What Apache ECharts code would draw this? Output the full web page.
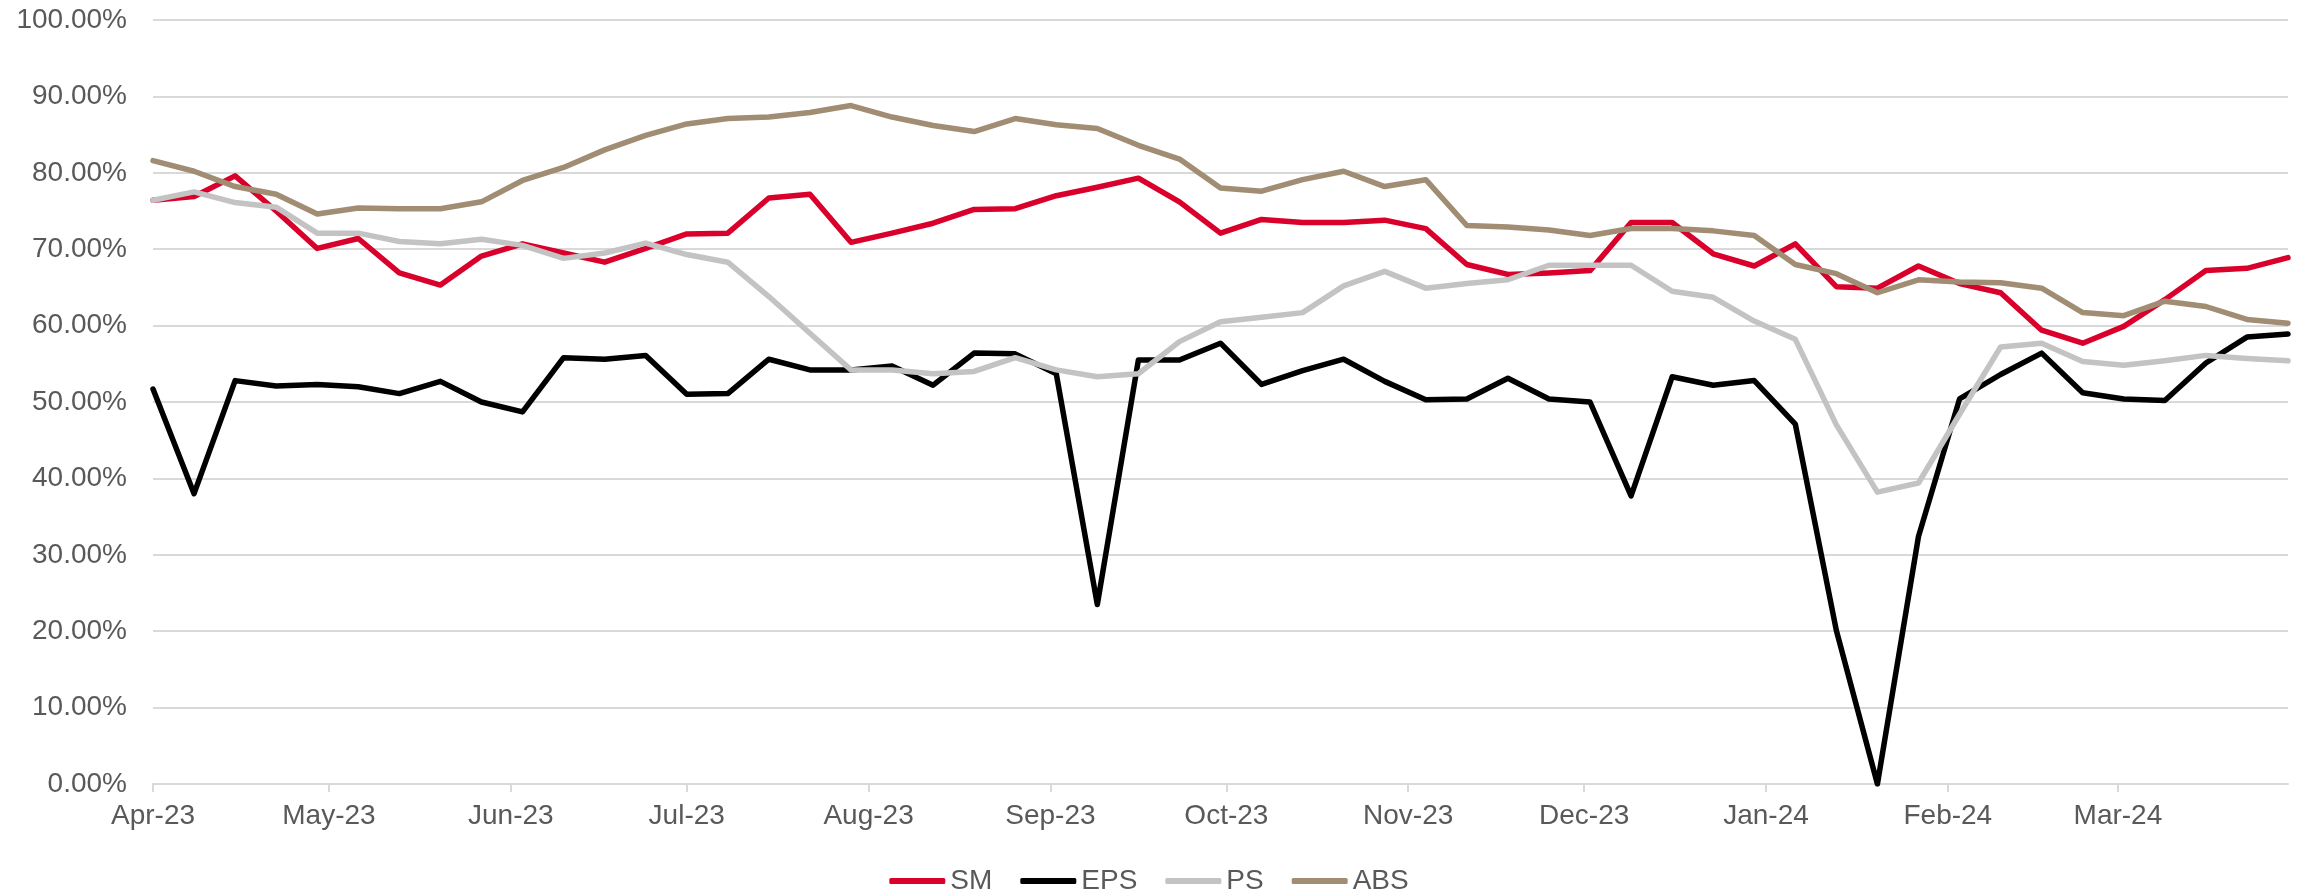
<!DOCTYPE html>
<html>
<head>
    <meta charset="UTF-8"/>
    <script type="text/javascript" src="https://cdn.jsdelivr.net/npm/echarts@6/dist/echarts.min.js"></script>
    <style>
        html, body { margin: 0; padding: 0; background: #fff; }
        #main { width: 2298px; height: 890px; }
    </style>
</head>
<body>
<div id="main"></div>
<script type="text/javascript">
    // weekly dates (Saturdays)
    var weeks = [
        '2023-04-01', '2023-04-08', '2023-04-15', '2023-04-22', '2023-04-29',
        '2023-05-06', '2023-05-13', '2023-05-20', '2023-05-27',
        '2023-06-03', '2023-06-10', '2023-06-17', '2023-06-24',
        '2023-07-01', '2023-07-08', '2023-07-15', '2023-07-22', '2023-07-29',
        '2023-08-05', '2023-08-12', '2023-08-19', '2023-08-26',
        '2023-09-02', '2023-09-09', '2023-09-16', '2023-09-23', '2023-09-30',
        '2023-10-07', '2023-10-14', '2023-10-21', '2023-10-28',
        '2023-11-04', '2023-11-11', '2023-11-18', '2023-11-25',
        '2023-12-02', '2023-12-09', '2023-12-16', '2023-12-23', '2023-12-30',
        '2024-01-06', '2024-01-13', '2024-01-20', '2024-01-27',
        '2024-02-03', '2024-02-10', '2024-02-17', '2024-02-24',
        '2024-03-02', '2024-03-09', '2024-03-16', '2024-03-23', '2024-03-30'
    ];

    // values in %
    var sm = [76.4, 76.9, 79.6, 75.0, 70.1, 71.4, 66.9, 65.3, 69.1, 70.7, 69.5,
        68.3, 70.1, 72.0, 72.1, 76.7, 77.2, 70.9, 72.1, 73.4, 75.2, 75.3, 77.0, 78.1, 79.3,
        76.2, 72.1, 73.9, 73.5, 73.5, 73.8, 72.7, 68.0, 66.7, 66.9, 67.2, 73.5, 73.5, 69.4, 67.8,
        70.7, 65.1, 64.9, 67.8, 65.5, 64.3, 59.4, 57.7, 59.9, 63.4, 67.2, 67.5, 68.9];
    var eps = [51.7, 38.0, 52.8, 52.1, 52.3, 52.0, 51.1, 52.7, 50.0, 48.7, 55.8,
        55.6, 56.1, 51.0, 51.1, 55.6, 54.2, 54.2, 54.7, 52.2, 56.4, 56.3, 53.7, 23.5, 55.5,
        55.5, 57.7, 52.3, 54.1, 55.6, 52.7, 50.3, 50.4, 53.1, 50.4, 50.0, 37.7, 53.3, 52.2, 52.8,
        47.1, 20.1, 0.0, 32.4, 50.4, 53.6, 56.4, 51.2, 50.4, 50.2, 55.1, 58.5, 58.9];
    var ps = [76.4, 77.5, 76.1, 75.5, 72.1, 72.1, 71.0, 70.7, 71.3, 70.5, 68.8,
        69.5, 70.8, 69.3, 68.3, 63.8, 59.0, 54.2, 54.2, 53.7, 54.0, 55.8, 54.2, 53.3, 53.7,
        57.9, 60.5, 61.1, 61.7, 65.2, 67.1, 64.9, 65.5, 66.0, 67.9, 67.9, 67.9, 64.5, 63.7, 60.6,
        58.2, 47.0, 38.2, 39.4, 48.4, 57.2, 57.7, 55.3, 54.8, 55.4, 56.1, 55.7, 55.4];
    var abs = [81.6, 80.2, 78.2, 77.2, 74.6, 75.4, 75.3, 75.3, 76.2, 79.0, 80.7,
        83.0, 84.9, 86.4, 87.1, 87.3, 87.9, 88.8, 87.3, 86.2, 85.4, 87.1, 86.3, 85.8, 83.6,
        81.8, 78.0, 77.6, 79.1, 80.2, 78.2, 79.1, 73.1, 72.9, 72.5, 71.8, 72.7, 72.7, 72.4, 71.8,
        68.0, 66.8, 64.3, 66.0, 65.7, 65.6, 64.9, 61.7, 61.3, 63.2, 62.5, 60.8, 60.3];

    // x axis ticks
    var monthStarts = ['2023-04-01', '2023-05-01', '2023-06-01', '2023-07-01', '2023-08-01', '2023-09-01',
        '2023-10-01', '2023-11-01', '2023-12-01', '2024-01-01', '2024-02-01', '2024-03-01'];
    var monthLabels = ['Apr-23', 'May-23', 'Jun-23', 'Jul-23', 'Aug-23', 'Sep-23',
        'Oct-23', 'Nov-23', 'Dec-23', 'Jan-24', 'Feb-24', 'Mar-24'];

    function toTime(s) {
        return +new Date(s.replace(/-/g, '/'));
    }
    var tickTimes = monthStarts.map(toTime);

    function pairs(vals) {
        return weeks.map(function (d, i) { return [toTime(d), vals[i]]; });
    }

    var font = 'Liberation Sans, Arial, sans-serif';
    var textColor = '#595959';
    var gridColor = '#D9D9D9';

    function line(name, vals, color) {
        return {
            name: name,
            type: 'line',
            data: pairs(vals),
            showSymbol: false,
            symbol: 'none',
            color: color,
            lineStyle: { width: 5.5, color: color, cap: 'round', join: 'round' }
        };
    }

    var myChart = echarts.init(document.getElementById('main'));
    var option = {
        animation: false,
        backgroundColor: '#fff',
        textStyle: { fontFamily: font },
        grid: { left: 153, right: 10, top: 20, bottom: 106, containLabel: false },
        legend: {
            left: 'center',
            top: 862,
            icon: 'roundRect',
            itemWidth: 56,
            itemHeight: 6,
            itemGap: 28,
            textStyle: { fontSize: 28, color: textColor, fontFamily: font },
            data: ['SM', 'EPS', 'PS', 'ABS']
        },
        xAxis: {
            type: 'value',
            min: toTime(weeks[0]),
            max: toTime(weeks[weeks.length - 1]),
            axisLine: { show: true, onZero: false, lineStyle: { color: gridColor, width: 2 } },
            axisTick: { show: true, length: 8, lineStyle: { color: gridColor, width: 2 }, customValues: tickTimes },
            splitLine: { show: false },
            axisLabel: {
                customValues: tickTimes,
                fontSize: 28,
                color: textColor,
                fontFamily: font,
                margin: 18,
                formatter: function (v) {
                    var i = tickTimes.indexOf(v);
                    return i >= 0 ? monthLabels[i] : '';
                }
            }
        },
        yAxis: {
            type: 'value',
            min: 0,
            max: 100,
            interval: 10,
            axisLine: { show: false },
            axisTick: { show: false },
            splitLine: { show: true, lineStyle: { color: gridColor, width: 2 } },
            axisLabel: {
                fontSize: 28,
                color: textColor,
                fontFamily: font,
                margin: 26,
                formatter: function (v) { return v.toFixed(2) + '%'; }
            }
        },
        series: [
            line('SM', sm, '#D9002B'),
            line('EPS', eps, '#000000'),
            line('PS', ps, '#C3C3C3'),
            line('ABS', abs, '#A08D73')
        ]
    };
    myChart.setOption(option);
</script>
</body>
</html>
